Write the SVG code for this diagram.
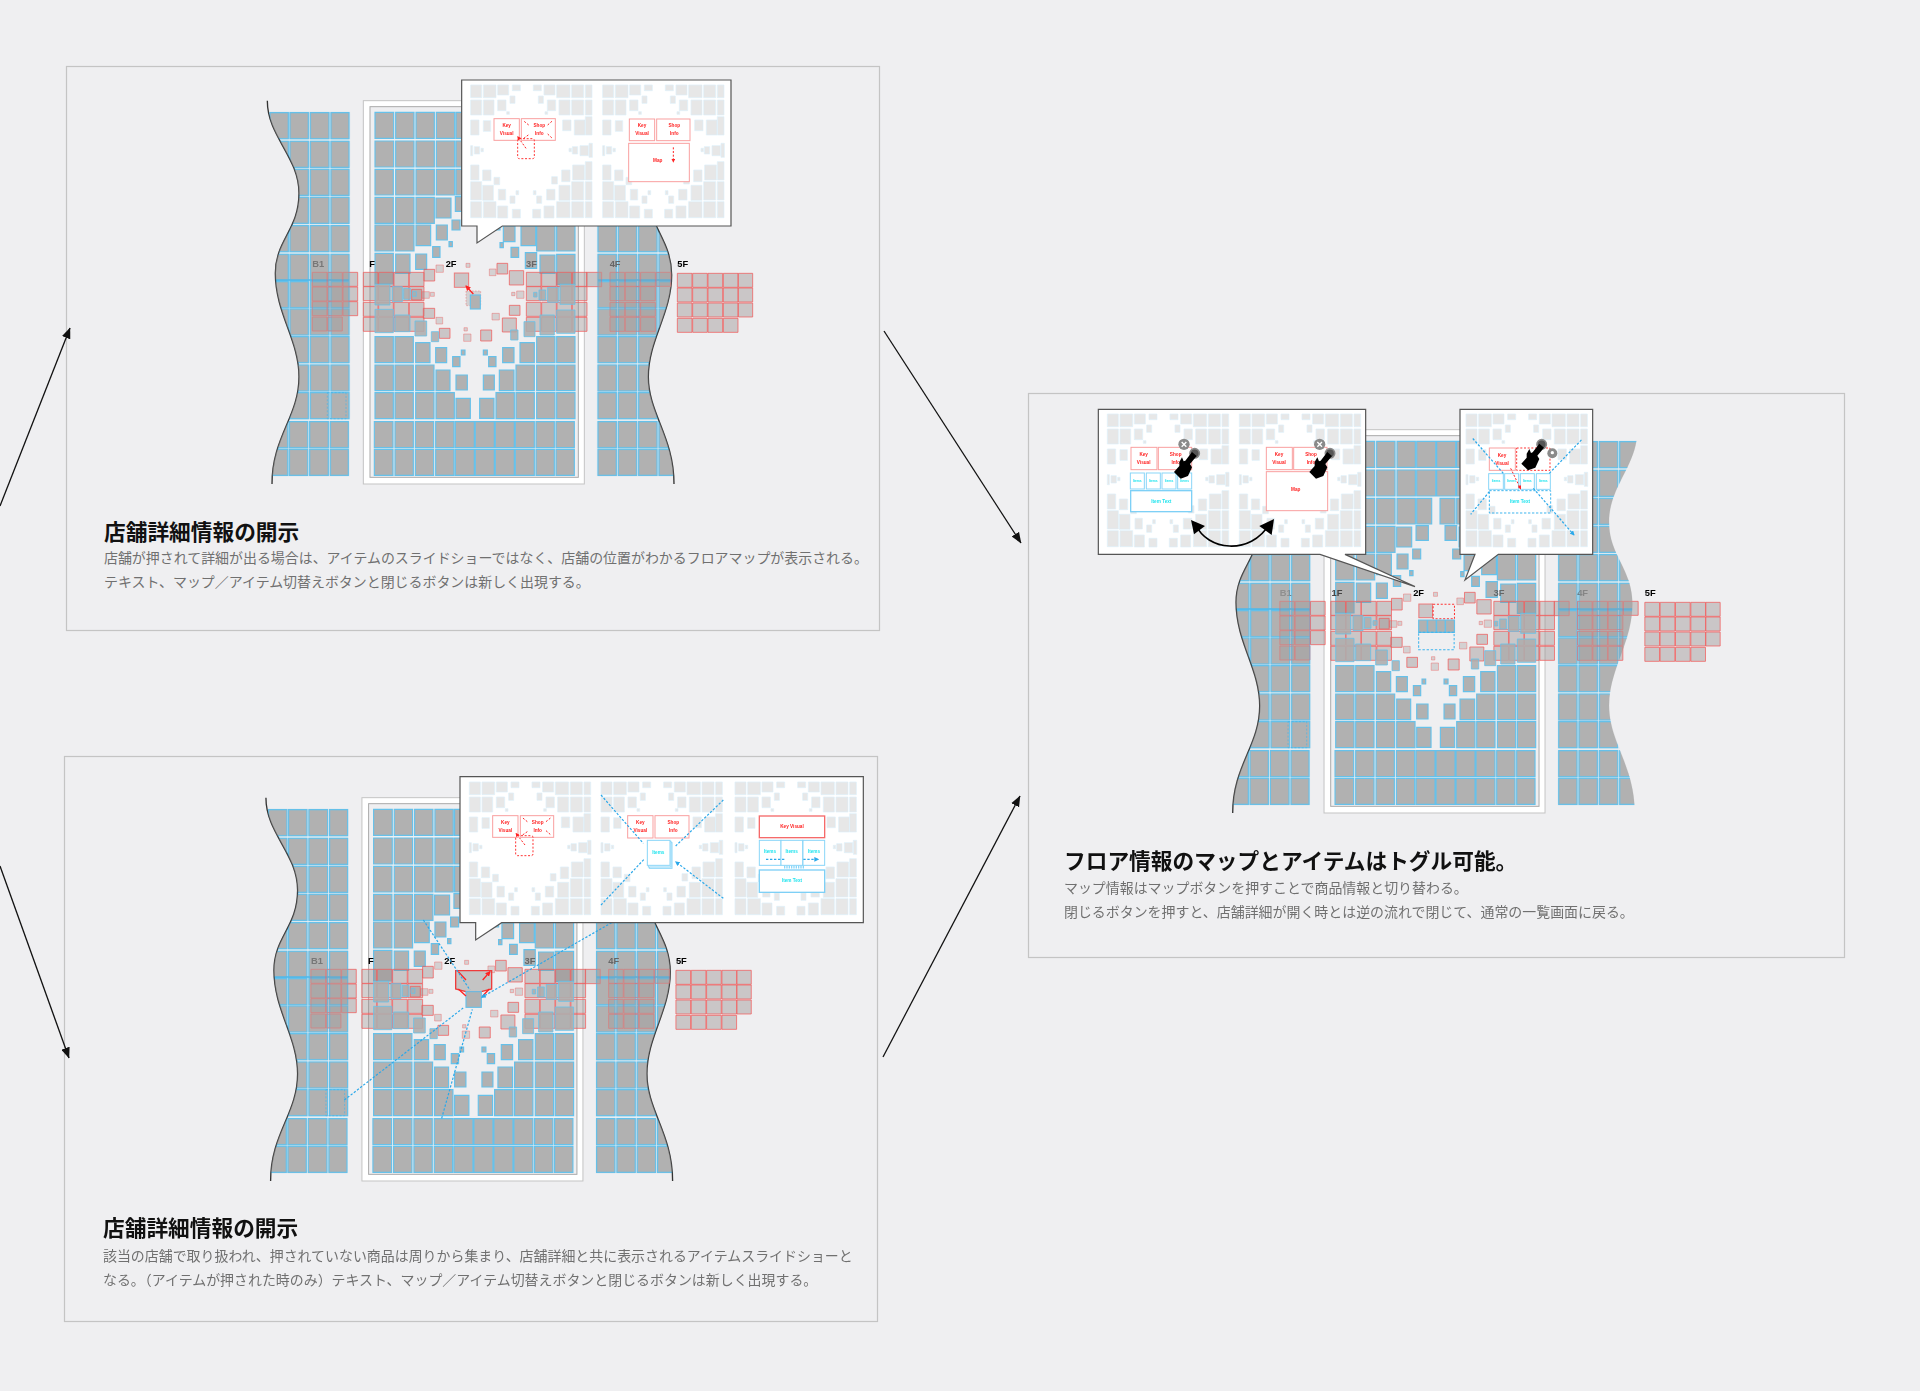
<svg xmlns="http://www.w3.org/2000/svg" xmlns:xlink="http://www.w3.org/1999/xlink" width="1920" height="1391" viewBox="0 0 1920 1391">
<style>
.bg{fill:#efeff1}
.pb{fill:none;stroke:#c4c4c4;stroke-width:1.2}
.c{fill:#b1b1b1;stroke:#66c1ea;stroke-width:3.4}
.m{fill:#adadad;stroke:#66c1ea;stroke-width:3;fill-opacity:.88;stroke-opacity:.8}
.o{fill:#968c8c;fill-opacity:.42;stroke:#f25c5c;stroke-opacity:.75;stroke-width:3}
.op{fill:#968c8c;fill-opacity:.3;stroke:#f25c5c;stroke-opacity:.4;stroke-width:3}
.wave{fill:none;stroke:#333;stroke-width:4}
.lb{font:bold 28px "Liberation Sans",sans-serif}
.mi{fill:#e7e7e7;stroke:#dcf0fa;stroke-width:2}
.pop{fill:#fff;stroke:#555;stroke-width:3.6}
.rb{fill:#fff;stroke:#f9a0a0;stroke-width:3}
.rbs{fill:#fff;stroke:#f56a6a;stroke-width:4}
.bb{fill:#fff;stroke:#8ad6f8;stroke-width:3}
.bbs{fill:#fff;stroke:#7ed0f6;stroke-width:4}
.rd{fill:none;stroke:#f33;stroke-width:3;stroke-dasharray:6 5}
.bd{fill:none;stroke:#3db4ee;stroke-width:3;stroke-dasharray:7 5}
.ra{fill:none;stroke:#f22;stroke-width:3;stroke-dasharray:6 5;marker-end:url(#mr)}
.rs{fill:none;stroke:#f22;stroke-width:4;marker-end:url(#mr)}
.ba{fill:none;stroke:#2aa8ea;stroke-width:3.6;stroke-dasharray:7 5;marker-end:url(#mb)}
.rt{font:bold 14px "Liberation Sans",sans-serif;fill:#f22;text-anchor:middle}
.bt{font:bold 14px "Liberation Sans",sans-serif;fill:#22e4ee;text-anchor:middle}
.bs{font:bold 10px "Liberation Sans",sans-serif;fill:#22e4ee;text-anchor:middle}
.ti{font:bold 21.7px "Noto Sans CJK JP",sans-serif;fill:#111}
.tx{font:400 13.95px "Noto Sans CJK JP",sans-serif;fill:#707070}
.cn{fill:none;stroke:#111;stroke-width:1.3;marker-end:url(#mk)}
</style>
<defs>
<marker id="mr" viewBox="0 0 6 6" refX="5" refY="3" markerWidth="4" markerHeight="4" orient="auto"><path d="M0 0L6 3L0 6Z" fill="#f22"/></marker>
<marker id="mb" viewBox="0 0 6 6" refX="5" refY="3" markerWidth="4" markerHeight="4" orient="auto"><path d="M0 0L6 3L0 6Z" fill="#2aa8ea"/></marker>
<marker id="mk" viewBox="0 0 10 8" refX="9.5" refY="4" markerWidth="11" markerHeight="9" markerUnits="userSpaceOnUse" orient="auto"><path d="M0 0L10 4L0 8Z" fill="#111"/></marker>
<clipPath id="cl"><path d="M52 122C52 230 147 290 147 400C147 510 76 540 76 640C76 760 147 840 147 950C147 1070 66 1130 66 1272L320 1272L320 122Z"/></clipPath>
<clipPath id="cr"><path d="M1000 122L1280 122C1280 230 1195 290 1195 400C1195 500 1265 540 1265 645C1265 760 1195 840 1195 950C1195 1060 1272 1130 1272 1272L1000 1272Z"/></clipPath>
<path id="lrow" class="c" d="M60 0h55v78h-55zM120 0h55v78h-55zM181 0h56v78h-56zM243 0h54v78h-54z"/>
<path id="rrow" class="c" d="M1044 0h55v78h-55zM1105 0h55v78h-55zM1166 0h55v78h-55zM1227 0h55v78h-55z"/>
<path id="crow" class="c" d="M375 0h56v78h-56zM437 0h55v78h-55zM498 0h55v78h-55zM559 0h55v78h-55zM618 0h57v78h-57zM678 0h57v78h-57zM738 0h57v78h-57zM798 0h57v78h-57zM860 0h55v78h-55zM920 0h55v78h-55z"/>
<g id="strips">
<g clip-path="url(#cl)">
<use href="#lrow" y="158"/><use href="#lrow" y="244"/><use href="#lrow" y="328"/><use href="#lrow" y="412"/><use href="#lrow" y="497"/><use href="#lrow" y="583"/><use href="#lrow" y="665"/><use href="#lrow" y="747"/><use href="#lrow" y="830"/><use href="#lrow" y="915"/><use href="#lrow" y="998"/><use href="#lrow" x="-2" y="1085"/><use href="#lrow" x="-2" y="1168"/>
<path d="M70 660H297" stroke="#4db8ec" stroke-width="4" fill="none"/>
</g>
<g clip-path="url(#cr)">
<use href="#rrow" y="158"/><use href="#rrow" y="244"/><use href="#rrow" y="328"/><use href="#rrow" y="412"/><use href="#rrow" y="497"/><use href="#rrow" y="583"/><use href="#rrow" y="665"/><use href="#rrow" y="747"/><use href="#rrow" y="830"/><use href="#rrow" y="915"/><use href="#rrow" y="998"/><use href="#rrow" y="1085"/><use href="#rrow" y="1168"/>
<path d="M1044 660H1265" stroke="#4db8ec" stroke-width="4" fill="none"/>
</g>
</g>
<g id="base">
<rect x="340" y="122" width="663" height="1150" fill="#fff" stroke="#c4c4c4" stroke-width="3"/>
<rect x="360" y="140" width="625" height="1112" fill="#efeff1" stroke="#aaa" stroke-width="3"/>
<use href="#strips"/>
<rect x="232" y="998" width="56" height="78" fill="none" stroke="#3db4ee" stroke-width="3" stroke-dasharray="6 5"/>
<use href="#crow" y="157"/><use href="#crow" y="243"/><use href="#crow" x="-2" y="1085"/><use href="#crow" x="-2" y="1168"/>
<path class="c" d="M375 328h55v77h-55zM437 328h55v77h-55zM498 328h55v77h-55zM559 328h55v77h-55zM618 328h45v77h-45zM688 328h45v77h-45zM738 328h57v77h-57zM798 328h57v77h-57zM860 328h55v77h-55zM920 328h55v77h-55z
M375 412h55v78h-55zM437 412h55v78h-55zM498 412h55v78h-55zM558 414h45v60h-45zM616 410h37v44h-37zM703 410h35v44h-35zM745 414h45v60h-45zM798 412h57v78h-57zM860 412h55v78h-55zM920 412h55v78h-55z
M375 495h55v78h-55zM437 495h55v78h-55zM498 495h44v62h-44zM559 495h33v45h-33zM606 480h24v30h-24zM726 480h24v30h-24zM760 498h35v47h-35zM813 498h44v59h-44zM860 495h55v78h-55zM920 495h55v78h-55z
M597 545h10v15h-10zM750 548h10v15h-10zM548 560h22v32h-22zM783 562h23v30h-23z
M375 580h55v92h-55zM437 582h43v58h-43zM497 582h33v46h-33zM826 578h34v47h-34zM870 585h45v55h-45zM920 583h55v90h-55z
M375 830h55v78h-55zM435 830h55v78h-55zM497 848h43v60h-43zM557 863h33v45h-33zM608 890h22v30h-22zM634 870h11v15h-11zM700 870h12v15h-12zM716 890h22v30h-22zM758 863h34v45h-34zM810 848h43v60h-43zM860 830h55v78h-55zM920 830h55v78h-55z
M375 915h55v77h-55zM435 915h55v77h-55zM497 915h55v77h-55zM558 930h42v62h-42zM618 945h34v45h-34zM700 945h33v45h-33zM748 930h44v62h-44zM798 915h55v77h-55zM860 915h55v77h-55zM920 915h55v77h-55z
M375 998h55v78h-55zM435 998h55v78h-55zM497 998h55v78h-55zM558 998h55v78h-55zM618 1015h43v60h-43zM689 1015h43v60h-43zM738 998h55v78h-55zM798 998h55v78h-55zM860 998h55v78h-55zM920 998h55v78h-55z"/>
</g>
<path id="r2" class="o" d="M0 0h44v42h-44zM46 0h44v42h-44z"/>
<path id="r3" class="o" d="M0 0h44v42h-44zM46 0h44v42h-44zM92 0h44v42h-44z"/>
<path id="r4" class="o" d="M0 0h44v42h-44zM46 0h44v42h-44zM92 0h44v42h-44zM138 0h44v42h-44z"/>
<path id="r5" class="o" d="M0 0h44v42h-44zM46 0h44v42h-44zM92 0h44v42h-44zM138 0h44v42h-44zM183 0h43v42h-43z"/>
<g id="ov">
<use href="#r3" x="187" y="637"/><use href="#r3" x="187" y="681"/><use href="#r3" x="187" y="725"/><use href="#r2" x="187" y="771"/>
<use href="#r4" x="340" y="637"/><use href="#r4" x="340" y="680"/><use href="#r4" x="340" y="727"/><use href="#r4" x="340" y="772"/>
<use href="#r4" x="829" y="637"/><use href="#r4" x="829" y="680"/><use href="#r4" x="829" y="727"/><use href="#r4" x="829" y="772"/>
<use href="#r4" x="1080" y="637"/><use href="#r3" x="1080" y="680"/><use href="#r3" x="1080" y="727"/><use href="#r3" x="1080" y="772"/>
<use href="#r5" x="1282" y="640"/><use href="#r5" x="1282" y="684"/><use href="#r5" x="1282" y="729"/><use href="#r4" x="1282" y="775"/>
<path class="o" d="M1010 637h45v43h-45zM522 628h32v35h-32zM741 610h32v32h-32zM778 632h43v43h-43zM485 688h30v32h-30zM778 736h32v30h-32zM520 745h34v30h-34zM568 805h32v30h-32zM692 810h33v33h-33zM757 774h42v42h-42z"/>
<path class="op" d="M558 615h22v22h-22zM648 610h12v12h-12zM718 627h20v20h-20zM516 695h22v20h-22zM541 697h12v12h-12zM785 697h10v10h-10zM800 693h22v22h-22zM558 772h20v20h-20zM642 803h10v10h-10zM641 822h22v22h-22zM726 760h22v20h-22z"/>
</g>
<path id="top" class="m" d="M375 673h45v62h-45zM427 680h30v45h-30zM461 685h20v33h-20zM487 695h12v14h-12zM375 748h55v70h-55zM435 765h45v50h-45zM495 783h35v45h-35zM544 815h22v30h-22zM930 673h45v60h-45zM893 682h32v45h-32zM867 690h20v30h-20zM851 697h10v14h-10zM870 765h43v60h-43zM920 750h55v70h-55zM822 785h33v45h-33zM782 810h22v30h-22z"/>
<path id="mini" class="mi" d="M662 75h33v38h-33zM700 75h38v38h-38zM743 75h33v30h-33zM787 75h24v17h-24zM850 75h24v17h-24zM882 75h33v30h-33zM920 75h40v38h-40zM965 75h36v38h-36zM1006 75h20v38h-20z
M662 120h33v45h-33zM700 120h32v45h-32zM743 120h25v32h-25zM780 108h15v22h-15zM865 108h15v22h-15zM892 120h25v32h-25zM927 120h33v45h-33zM965 120h36v45h-36zM1006 120h20v45h-20z
M662 180h25v45h-25zM700 182h22v32h-22zM770 155h8v8h-8zM885 155h8v8h-8zM938 180h25v32h-25zM973 180h32v45h-32zM1006 170h20v55h-20z
M662 257h6v30h-6zM673 260h16v22h-16zM693 265h7v10h-7zM957 265h7v10h-7zM967 260h16v22h-16zM990 257h25v30h-25zM1017 250h10v42h-10z
M662 315h25v45h-25zM698 330h25v32h-25zM732 352h17v22h-17zM905 350h17v22h-17zM935 330h25v35h-25zM968 315h35v45h-35zM1006 305h20v55h-20z
M662 365h33v55h-33zM698 376h32v45h-32zM745 388h22v32h-22zM798 392h8v12h-8zM850 392h8v12h-8zM780 408h15v22h-15zM860 408h15v22h-15zM890 388h25v32h-25zM927 376h33v45h-33zM965 365h36v55h-36zM1006 365h20v55h-20z
M662 425h33v48h-33zM700 425h38v48h-38zM743 438h30v36h-30zM787 448h24v26h-24zM848 448h24v26h-24zM882 438h30v36h-30zM920 425h40v48h-40zM965 425h36v48h-36zM1006 425h20v48h-20z"/>
<path id="hand" fill="#000" d="M-6 -4L8 8L-12 32L-6 42L-18 68L-40 76L-60 56L-44 38L-44 26L-36 12L-31 24L-26 22Z"/>
<g id="lbl">
<text class="lb" x="187" y="620" fill="#777">B1</text>
<text class="lb" x="587" y="621" fill="#000">2F</text>
<text class="lb" x="828" y="621" fill="#666">3F</text>
<text class="lb" x="1079" y="621" fill="#666">4F</text>
<text class="lb" x="1282" y="621" fill="#000">5F</text>
</g>
</defs>

<rect class="bg" width="1920" height="1391"/>

<g id="panel-1">
<rect class="pb" x="66.5" y="66.5" width="813" height="564"/>
<g id="plan-1" transform="translate(250 60) scale(.33333)">
<use href="#base"/>
<path class="wave" d="M52 122C52 230 147 290 147 400C147 510 76 540 76 640C76 760 147 840 147 950C147 1070 66 1130 66 1272"/>
<path class="wave" d="M1280 122C1280 230 1195 290 1195 400C1195 500 1265 540 1265 645C1265 760 1195 840 1195 950C1195 1060 1272 1130 1272 1272"/>
<use href="#ov"/>
<use href="#strips" opacity=".42"/>
<rect class="o" x="613" y="639" width="43" height="43"/>
<rect class="op" x="648" y="693" width="44" height="44" stroke-dasharray="5 4"/>
<use href="#top"/>
<rect class="c" x="661" y="705" width="30" height="42"/>
<path class="rs" d="M670 702L648 678"/>
<use href="#lbl"/>
<text class="lb" x="358" y="621" fill="#000">F</text>
</g>
<g id="popup-1" transform="translate(250 60) scale(.33333)">
<path class="pop" d="M635 60H1443V498H757L681 549V498H635Z"/>
<use href="#mini"/><use href="#mini" x="396"/>
<rect class="rb" x="732" y="176" width="76" height="65"/><rect class="rb" x="814" y="176" width="102" height="65"/>
<text class="rt" x="770" y="201">Key</text><text class="rt" x="770" y="225">Visual</text><text class="rt" x="868" y="201">Shop</text><text class="rt" x="868" y="225">Info</text>
<rect class="rd" x="803" y="236" width="50" height="60" rx="5"/>
<path class="ra" d="M836 195L820 182M893 195L908 182M893 222L908 236M835 225L820 236M828 265L803 230"/>
<rect class="rb" x="1138" y="177" width="76" height="65"/><rect class="rb" x="1220" y="177" width="100" height="65"/><rect class="rb" x="1136" y="250" width="182" height="115"/>
<text class="rt" x="1176" y="202">Key</text><text class="rt" x="1176" y="226">Visual</text><text class="rt" x="1273" y="202">Shop</text><text class="rt" x="1273" y="226">Info</text><text class="rt" x="1223" y="306">Map</text>
<path class="ra" d="M1270 262V306"/>
</g>
<g id="text-1">
<text class="ti" x="104" y="540">店舗詳細情報の開示</text>
<text class="tx" x="104" y="563">店舗が押されて詳細が出る場合は、アイテムのスライドショーではなく、店舗の位置がわかるフロアマップが表示される。</text>
<text class="tx" x="104" y="587">テキスト、マップ／アイテム切替えボタンと閉じるボタンは新しく出現する。</text>
</g>
</g>

<g id="panel-2">
<rect class="pb" x="64.5" y="756.5" width="813" height="565"/>
<g id="plan-2" transform="translate(248.6 757) scale(.33333)">
<use href="#base"/>
<path class="wave" d="M52 122C52 230 147 290 147 400C147 510 76 540 76 640C76 760 147 840 147 950C147 1070 66 1130 66 1272"/>
<path class="wave" d="M1280 122C1280 230 1195 290 1195 400C1195 500 1265 540 1265 645C1265 760 1195 840 1195 950C1195 1060 1272 1130 1272 1272"/>
<use href="#ov"/>
<use href="#strips" opacity=".42"/>
<use href="#top"/>
<use href="#lbl"/>
<text class="lb" x="358" y="621" fill="#000">F</text>
</g>
<g id="focus-2" transform="translate(250 920) scale(.33333)">
<path d="M617 152H725V207L694 215H648L617 207Z" fill="#c4c4c4" stroke="#ee3b3b" stroke-width="4"/>
<rect class="c" x="648" y="215" width="46" height="47" stroke-width="4"/>
<path class="rs" d="M648 228L625 207M698 228L718 207M648 180L625 155M698 180L720 155"/>
<path class="ba" d="M283 540L642 262M575 595L667 268M520 0L660 210M1085 8L695 232"/>
</g>
<g id="popup-2" transform="translate(450 770) scale(.33333)">
<path class="pop" d="M30 20H1240V458H155L77 510V458H30Z"/>
<use href="#mini" x="-604" y="-39"/><use href="#mini" x="-209" y="-39"/><use href="#mini" x="193" y="-39"/>
<rect class="rb" x="128" y="137" width="76" height="65"/><rect class="rb" x="211" y="137" width="100" height="65"/>
<text class="rt" x="166" y="161">Key</text><text class="rt" x="166" y="186">Visual</text><text class="rt" x="263" y="161">Shop</text><text class="rt" x="263" y="186">Info</text>
<rect class="rd" x="197" y="197" width="52" height="60" rx="5"/>
<path class="ra" d="M232 155L216 142M288 155L304 142M288 182L304 196M232 185L216 196M225 225L198 190"/>
<rect class="rb" x="533" y="137" width="76" height="67"/><rect class="rb" x="615" y="137" width="102" height="67"/>
<text class="rt" x="571" y="161">Key</text><text class="rt" x="571" y="186">Visual</text><text class="rt" x="670" y="161">Shop</text><text class="rt" x="670" y="186">Info</text>
<rect class="bb" x="598" y="218" width="68" height="77"/><rect class="bb" x="595" y="214" width="68" height="77"/><rect class="bb" x="592" y="211" width="68" height="75"/>
<text class="bt" x="625" y="251">Items</text>
<path class="ba" d="M453 75L580 220M820 90L677 228M453 405L582 268M820 385L677 275"/>
<rect class="rbs" x="928" y="138" width="196" height="65"/><text class="rt" x="1026" y="174">Key Visual</text>
<rect class="bb" x="928" y="211" width="65" height="75"/><rect class="bb" x="993" y="211" width="65" height="75"/><rect class="bb" x="1059" y="211" width="65" height="75"/>
<text class="bt" x="960" y="250">Items</text><text class="bt" x="1025" y="250">Items</text><text class="bt" x="1092" y="250">Items</text>
<path class="ba" d="M1003 268H948M1060 268H1105"/>
<path d="M1002 291H1065" stroke="#8ad6f8" stroke-width="9" stroke-dasharray="4 3" fill="none"/>
<rect class="bbs" x="928" y="300" width="196" height="67"/><text class="bt" x="1026" y="336">Item Text</text>
</g>
<g id="text-2">
<text class="ti" x="103" y="1236">店舗詳細情報の開示</text>
<text class="tx" x="103" y="1261">該当の店舗で取り扱われ、押されていない商品は周りから集まり、店舗詳細と共に表示されるアイテムスライドショーと</text>
<text class="tx" x="103" y="1285">なる。（アイテムが押された時のみ）テキスト、マップ／アイテム切替えボタンと閉じるボタンは新しく出現する。</text>
</g>
</g>

<g id="panel-3">
<rect class="pb" x="1028.5" y="393.5" width="816" height="564"/>
<g id="plan-3-base" transform="translate(1210.7 389) scale(.33333)">
<use href="#base"/>
<path class="wave" d="M52 122C52 230 147 290 147 400C147 510 76 540 76 640C76 760 147 840 147 950C147 1070 66 1130 66 1272"/>
</g>
<g id="plan-3-over" transform="translate(1217.5 389) scale(.33333)">
<use href="#ov"/>
<rect class="o" x="604" y="645" width="41" height="41"/>
<use href="#lbl"/>
<text class="lb" x="342" y="621" fill="#444">1F</text>
</g>
<g transform="translate(1210.7 389) scale(.33333)">
<use href="#strips" opacity=".42"/>
<use href="#top"/>
</g>
<g id="focus-3" transform="translate(1200 580) scale(.34435 .33333)">
<rect class="rd" x="677" y="73" width="62" height="43" stroke-dasharray="4 3"/>
<path class="c" d="M635 120h25v37h-25zM661 120h25v37h-25zM687 120h25v37h-25zM713 120h26v37h-26z"/>
<rect class="bd" x="635" y="157" width="103" height="52" stroke-dasharray="4 3"/>
</g>
<g id="popup-3a" transform="translate(1090 400) scale(.33333)">
<path class="pop" d="M25 28H827V463H765L975 560L690 463H25Z"/>
<use href="#mini" x="-610" y="-33"/><use href="#mini" x="-214" y="-33"/>
<rect class="rb" x="123" y="142" width="78" height="67"/><rect class="rb" x="205" y="142" width="100" height="67"/>
<text class="rt" x="161" y="168">Key</text><text class="rt" x="161" y="192">Visual</text><text class="rt" x="257" y="168">Shop</text><text class="rt" x="257" y="192">Info</text>
<rect class="bb" x="121" y="219" width="42" height="48"/><rect class="bb" x="169" y="219" width="42" height="48"/><rect class="bb" x="216" y="219" width="42" height="48"/><rect class="bb" x="263" y="219" width="42" height="48"/>
<text class="bs" x="142" y="245">Items</text><text class="bs" x="190" y="245">Items</text><text class="bs" x="237" y="245">Items</text><text class="bs" x="284" y="245">Items</text>
<rect class="bbs" x="122" y="272" width="183" height="63"/><text class="bt" x="214" y="308">Item Text</text>
<rect class="rb" x="529" y="142" width="78" height="67"/><rect class="rb" x="611" y="142" width="100" height="67"/><rect class="rb" x="529" y="215" width="184" height="117"/>
<text class="rt" x="567" y="168">Key</text><text class="rt" x="567" y="192">Visual</text><text class="rt" x="663" y="168">Shop</text><text class="rt" x="663" y="192">Info</text><text class="rt" x="617" y="272">Map</text>
<circle cx="282" cy="133" r="17" fill="#8a8a8a"/><path d="M275 126L289 140M289 126L275 140" stroke="#fff" stroke-width="4"/>
<circle cx="314" cy="160" r="14" fill="#555" stroke="#888" stroke-width="5"/><use href="#hand" x="312" y="160"/>
<circle cx="689" cy="133" r="17" fill="#8a8a8a"/><path d="M682 126L696 140M696 126L682 140" stroke="#fff" stroke-width="4"/>
<circle cx="720" cy="160" r="14" fill="#555" stroke="#888" stroke-width="5"/><use href="#hand" x="718" y="160"/>
<path d="M318 375C350 450 480 470 540 370" fill="none" stroke="#000" stroke-width="5"/>
<path d="M303 360L345 378L312 403Z" fill="#000"/><path d="M552 357L545 405L508 378Z" fill="#000"/>
</g>
<g id="popup-3b" transform="translate(1090 400) scale(.33333)">
<path class="pop" d="M1110 28H1508V463H1225L1125 540L1155 463H1110Z"/>
<use href="#mini" x="466" y="-33"/>
<rect class="rb" x="1198" y="144" width="78" height="67" stroke="#f56a6a"/><text class="rt" x="1236" y="170">Key</text><text class="rt" x="1236" y="194">Visual</text>
<rect class="rd" x="1280" y="144" width="100" height="67" stroke-dasharray="4 4"/>
<rect class="bb" x="1196" y="221" width="44" height="47"/><rect class="bb" x="1244" y="221" width="42" height="47"/><rect class="bb" x="1291" y="221" width="42" height="47"/><rect class="bb" x="1339" y="221" width="42" height="47"/>
<text class="bs" x="1218" y="246">Items</text><text class="bs" x="1265" y="246">Items</text><text class="bs" x="1312" y="246">Items</text><text class="bs" x="1360" y="246">Items</text>
<rect class="bd" x="1198" y="272" width="184" height="67" stroke-dasharray="4 4"/><text class="bt" x="1290" y="309">Item Text</text>
<path class="ba" d="M1240 220L1148 115M1378 220L1477 117M1198 275L1142 343M1330 265L1452 405"/>
<path class="ra" d="M1262 205L1292 267"/>
<circle cx="1387" cy="160" r="15" fill="#8a8a8a"/><circle cx="1387" cy="158" r="5" fill="#fff"/>
<circle cx="1355" cy="133" r="14" fill="#555" stroke="#888" stroke-width="5"/><use href="#hand" x="1354" y="135"/>
</g>
<g id="text-3">
<text class="ti" x="1064" y="869">フロア情報のマップとアイテムはトグル可能。</text>
<text class="tx" x="1064" y="893">マップ情報はマップボタンを押すことで商品情報と切り替わる。</text>
<text class="tx" x="1064" y="917">閉じるボタンを押すと、店舗詳細が開く時とは逆の流れで閉じて、通常の一覧画面に戻る。</text>
</g>
</g>

<g id="connectors">
<path class="cn" d="M0 506L70 328"/>
<path class="cn" d="M0 866L69 1058"/>
<path class="cn" d="M884 331L1021 543"/>
<path class="cn" d="M883 1057L1020 796"/>
</g>
</svg>
